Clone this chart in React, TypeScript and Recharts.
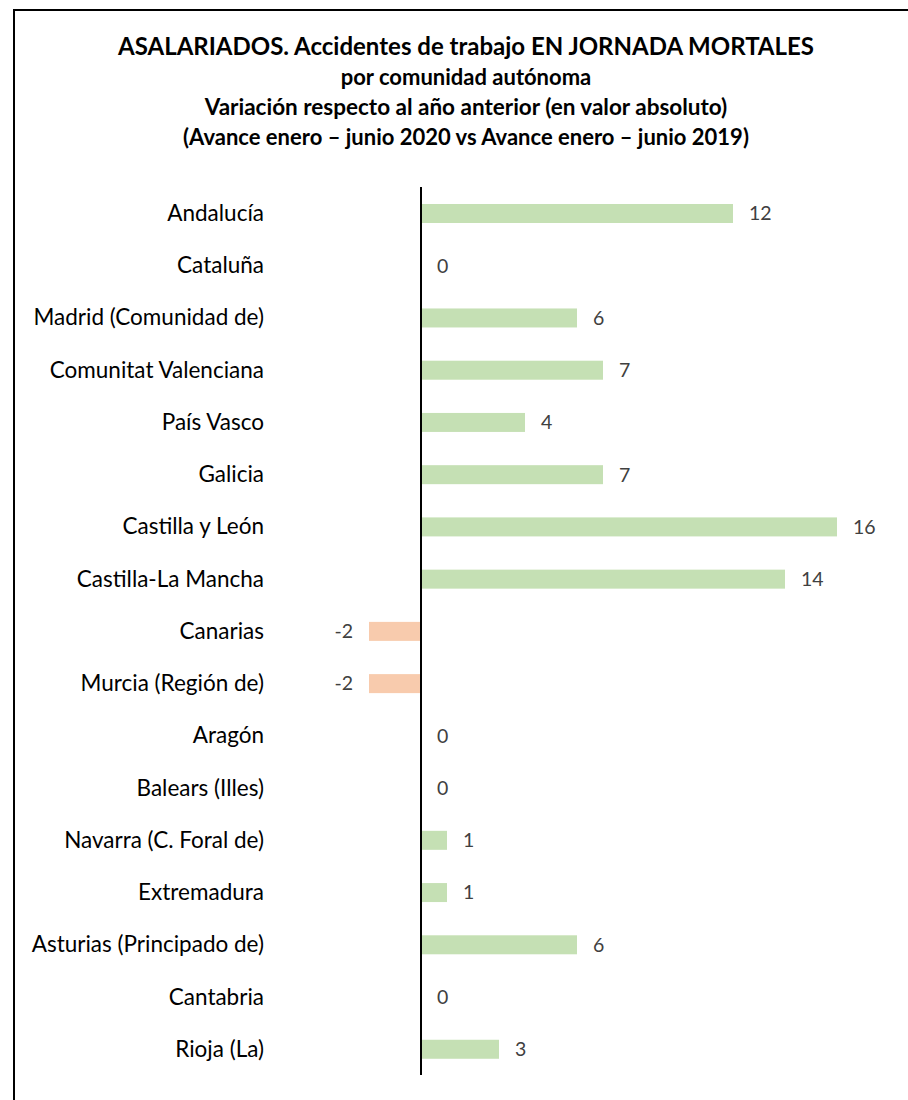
import React from "react";
import { BarChart, Bar, XAxis, YAxis, Cell, ReferenceLine } from "recharts";

const categories = [
  "Andalucía",
  "Cataluña",
  "Madrid (Comunidad de)",
  "Comunitat Valenciana",
  "País Vasco",
  "Galicia",
  "Castilla y León",
  "Castilla-La Mancha",
  "Canarias",
  "Murcia (Región de)",
  "Aragón",
  "Balears (Illes)",
  "Navarra (C. Foral de)",
  "Extremadura",
  "Asturias (Principado de)",
  "Cantabria",
  "Rioja (La)",
];
const values = [12, 0, 6, 7, 4, 7, 16, 14, -2, -2, 0, 0, 1, 1, 6, 0, 3];

const titleLines = [
  "ASALARIADOS. Accidentes de trabajo EN JORNADA MORTALES",
  "por comunidad autónoma",
];
const subtitleLines = [
  "Variación respecto al año anterior (en valor absoluto)",
  "(Avance enero – junio 2020 vs Avance enero – junio 2019)",
];

const data = categories.map((name, i) => ({ name, value: values[i] }));

const FONT = "Lato, 'Open Sans', sans-serif";

const BarWithLabel = (props: any) => {
  const { x, y, width, height, value, payload } = props;
  const v = payload && typeof payload.value === "number" ? payload.value : Array.isArray(value) ? value[1] : value;
  const left = Math.min(x, x + width);
  const right = Math.max(x, x + width);
  const w = Math.abs(width);
  const cy = y + height / 2;
  const fill = v < 0 ? "#F8CBAD" : "#C5E0B4";
  return (
    <g>
      {w > 0 && <rect x={left} y={y} width={w} height={height} fill={fill} />}
      {v < 0 ? (
        <text x={left - 16} y={cy} dy="0.35em" textAnchor="end" fill="#404040" fontSize={19.5} fontFamily={FONT}>
          {v}
        </text>
      ) : (
        <text x={right + 16} y={cy} dy="0.35em" textAnchor="start" fill="#404040" fontSize={19.5} fontFamily={FONT}>
          {v}
        </text>
      )}
    </g>
  );
};

const CatTick = (props: any) => {
  const { x, y, payload } = props;
  return (
    <text x={x} y={y} dy="0.35em" textAnchor="end" fill="#000" fontSize={22.5} fontFamily={FONT}>
      {payload.value}
    </text>
  );
};

export default function App() {
  return (
    <div style={{ position: "absolute", left: 0, top: 0, width: 908, height: 1100, background: "#fff", overflow: "hidden", fontFamily: FONT }}>
      <div style={{ position: "absolute", left: 13, top: 9, width: 1000, height: 1200, border: "2px solid #000", boxSizing: "border-box" }} />
      <div style={{ position: "absolute", left: 0, top: 30, width: 932, textAlign: "center", fontWeight: 700, color: "#000" }}>
        <div style={{ fontSize: 24, lineHeight: "31px", whiteSpace: "nowrap" }}>{titleLines[0]}</div>
        <div style={{ fontSize: 22, lineHeight: "31px", whiteSpace: "nowrap" }}>{titleLines[1]}</div>
        <div style={{ fontSize: 22.5, lineHeight: "30px", whiteSpace: "nowrap" }}>{subtitleLines[0]}</div>
        <div style={{ fontSize: 22, lineHeight: "30px", whiteSpace: "nowrap" }}>{subtitleLines[1]}</div>
      </div>
      <div style={{ position: "absolute", left: 0, top: 0 }}>
        <BarChart
          width={908}
          height={1100}
          data={data}
          layout="vertical"
          margin={{ top: 187, bottom: 25, left: 0, right: 19 }}
          barSize={19}
        >
          <XAxis type="number" domain={[-4, 18]} hide />
          <YAxis
            type="category"
            dataKey="name"
            width={317}
            axisLine={false}
            tickLine={false}
            tickSize={0}
            tickMargin={53}
            interval={0}
            tick={<CatTick />}
          />
          <Bar dataKey="value" isAnimationActive={false} shape={<BarWithLabel />}>
            {data.map((d, i) => (
              <Cell key={i} fill={d.value < 0 ? "#F8CBAD" : "#C5E0B4"} />
            ))}
          </Bar>
          <ReferenceLine x={0} stroke="#000" strokeWidth={2} />
        </BarChart>
      </div>
    </div>
  );
}
